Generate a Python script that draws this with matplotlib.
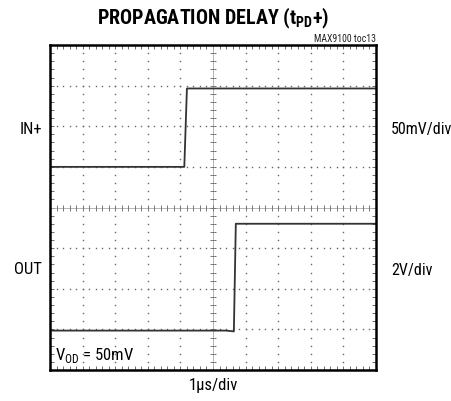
import numpy as np
import matplotlib
matplotlib.use("Agg")
import matplotlib.pyplot as plt
from matplotlib import font_manager as fm

names = {f.name for f in fm.fontManager.ttflist}
narrow = 'DejaVu Sans'
for cand in ["Roboto Condensed", "Archivo Narrow", "Liberation Sans Narrow"]:
    if cand in names:
        narrow = cand
        break
plt.rcParams['font.family'] = [narrow, 'DejaVu Sans']
plt.rcParams['mathtext.fontset'] = 'custom'
plt.rcParams['mathtext.rm'] = narrow
plt.rcParams['mathtext.bf'] = narrow + ':bold'

# Data (in oscilloscope divisions: x 0..10, y 0..8)
in_t = [0.0, 4.12, 4.20, 10.0]
in_v = [5.0, 5.0, 6.93, 6.93]
out_t = [0.0, 5.4, 5.64, 5.70, 10.0]
out_v = [0.97, 0.97, 0.95, 3.6, 3.6]

fig = plt.figure(figsize=(4.52, 4.02), dpi=100)
ax = fig.add_axes([50/452, 31/402, 326/452, 325/402])
ax.set_xlim(0, 10)
ax.set_ylim(0, 8)

# grid dots
gx = np.arange(0, 10.001, 0.2)
gy = np.arange(0, 8.001, 0.2)
for i in range(1, 10):
    if i == 5:
        continue
    ax.plot(np.full_like(gy, i), gy, ls='none', marker='s', ms=1.0, color='#666666', mew=0)
for j in range(1, 8):
    if j == 4:
        continue
    ax.plot(gx, np.full_like(gx, j), ls='none', marker='s', ms=1.0, color='#666666', mew=0)
# center axes with ticks
ax.axvline(5, color='#aaaaaa', lw=0.6)
ax.axhline(4, color='#aaaaaa', lw=0.6)
ax.plot(np.full_like(gy, 5), gy, ls='none', marker='_', ms=4, mew=0.7, color='#777777')
ax.plot(gx, np.full_like(gx, 4), ls='none', marker='|', ms=4, mew=0.7, color='#777777')

ax.plot(in_t, in_v, color='#333333', lw=1.3)
ax.plot(out_t, out_v, color='#333333', lw=1.3)

for s in ax.spines.values():
    s.set_linewidth(1.8)
ax.set_xticks(np.arange(0, 10.001, 1))
ax.set_yticks(np.arange(0, 8.001, 1))
ax.set_xticks(gx, minor=True)
ax.set_yticks(gy, minor=True)
ax.tick_params(which='both', direction='in', top=True, right=True, length=3, width=0.6,
               color='#555555', labelbottom=False, labelleft=False)

fig.text(213/452, 1 - 18/402, r'PROPAGATION DELAY (t$_{\mathbf{PD}}$+)', ha='center', va='center',
         fontsize=14.5, fontweight='bold')
fig.text(376/452, 1 - 39/402, 'MAX9100 toc13', ha='right', va='center', fontsize=7, color='#222222')
fig.text(42/452, 1 - 130/402, 'IN+', ha='right', va='center', fontsize=12)
fig.text(42/452, 1 - 270/402, 'OUT', ha='right', va='center', fontsize=12)
fig.text(391/452, 1 - 130/402, '50mV/div', ha='left', va='center', fontsize=11.5)
fig.text(391/452, 1 - 270/402, '2V/div', ha='left', va='center', fontsize=11.5)
fig.text(213/452, 1 - 386/402, '1µs/div', ha='center', va='center', fontsize=12)
ax.text(0.14, 0.38, r'V$_{\mathregular{OD}}$ = 50mV', ha='left', va='center', fontsize=12)

fig.savefig('out.png', dpi=100)
